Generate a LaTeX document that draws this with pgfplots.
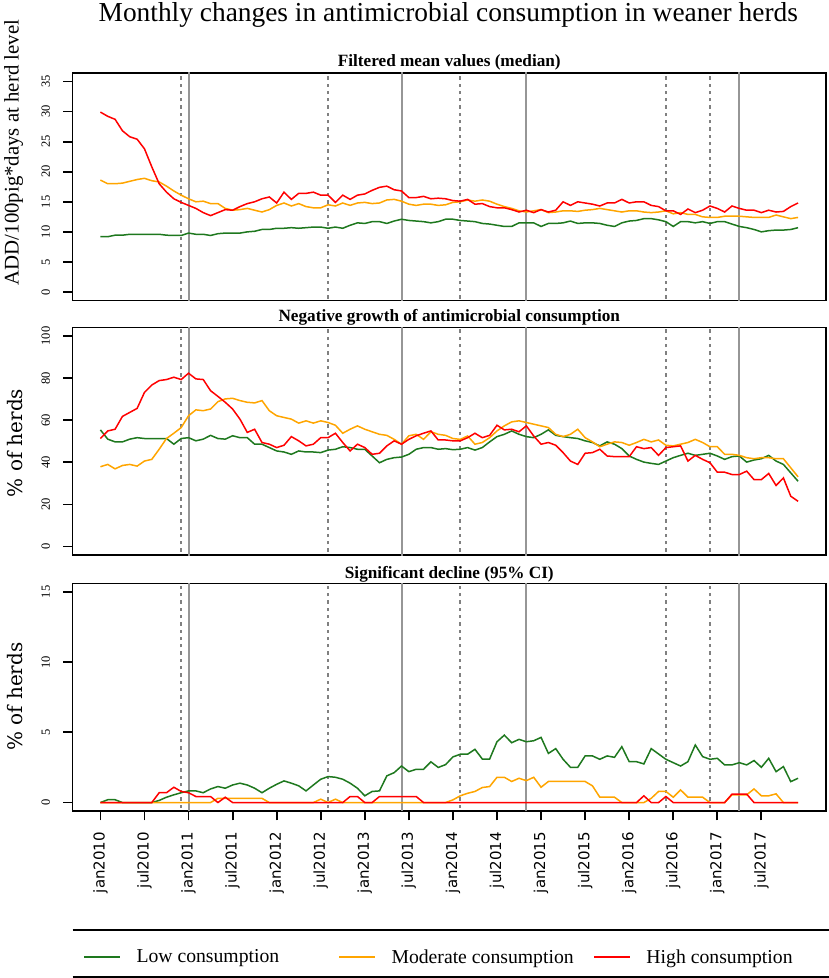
\documentclass[border=0pt]{standalone}
\usepackage{pgfplots}
\usepackage{pgfplotstable}
\pgfplotsset{compat=1.18}
\usepackage{fontspec}
\setmainfont{Liberation Serif}
\newfontfamily\dejasans{DejaVu Sans}
\newfontfamily\dejaserif{DejaVu Serif}
\definecolor{cgreen}{RGB}{30,120,30}
\definecolor{corange}{RGB}{255,165,0}
\definecolor{cred}{RGB}{255,0,0}
\definecolor{cvl}{RGB}{150,150,150}
\newcommand\tfont{\fontsize{27.4pt}{32pt}\selectfont}
\newcommand\pfont{\fontsize{17.2pt}{20pt}\selectfont\bfseries}
\newcommand\ytfont{\fontsize{12.5pt}{14pt}\selectfont}
\newcommand\xtfont{\dejasans\fontsize{15pt}{17pt}\selectfont}
\newcommand\legfont{\fontsize{19.7pt}{22pt}\selectfont}
\newcommand\ylaba{\fontsize{20.8pt}{24pt}\selectfont}
\newcommand\ylabb{\dejaserif\fontsize{20pt}{24pt}\selectfont}

\pgfplotstableread{
m g o r
0 9.2 18.6 29.9
1 9.2 18.0 29.2
2 9.45 18.0 28.7
3 9.45 18.1 26.8
4 9.6 18.4 25.8
5 9.6 18.7 25.4
6 9.6 18.9 23.8
7 9.6 18.5 20.8
8 9.6 18.3 18.0
9 9.45 17.6 16.6
10 9.4 16.8 15.5
11 9.4 16.1 14.9
12 9.8 15.5 14.4
13 9.6 15.0 13.9
14 9.6 15.1 13.2
15 9.4 14.7 12.7
16 9.7 14.7 13.2
17 9.8 13.9 13.7
18 9.8 13.6 13.6
19 9.8 13.7 14.2
20 10.0 13.9 14.7
21 10.1 13.6 15.0
22 10.4 13.3 15.5
23 10.4 13.7 15.8
24 10.6 14.4 14.8
25 10.6 14.8 16.6
26 10.7 14.3 15.4
27 10.6 14.7 16.4
28 10.7 14.2 16.4
29 10.8 14.0 16.6
30 10.8 14.0 16.1
31 10.6 14.5 16.1
32 10.8 14.3 14.9
33 10.6 14.8 16.1
34 11.1 14.4 15.4
35 11.5 14.8 16.1
36 11.4 14.9 16.3
37 11.7 14.7 16.9
38 11.7 14.8 17.4
39 11.4 15.3 17.6
40 11.8 15.4 17.0
41 12.1 15.1 16.8
42 11.9 14.6 15.7
43 11.8 14.4 15.7
44 11.7 14.6 15.9
45 11.5 14.6 15.5
46 11.7 14.4 15.6
47 12.1 14.5 15.5
48 12.1 14.9 15.2
49 11.9 15.0 15.1
50 11.8 15.3 15.4
51 11.7 15.1 14.6
52 11.4 15.3 14.7
53 11.3 15.1 14.2
54 11.1 14.6 14.0
55 10.9 14.2 14.0
56 10.9 13.9 13.7
57 11.5 13.5 13.3
58 11.5 13.3 13.6
59 11.5 13.5 13.2
60 10.9 13.7 13.7
61 11.4 13.2 13.3
62 11.4 13.3 13.6
63 11.5 13.5 15.0
64 11.8 13.5 14.4
65 11.4 13.4 15.0
66 11.5 13.6 14.8
67 11.5 13.7 14.6
68 11.4 13.9 14.3
69 11.1 13.7 14.8
70 10.9 13.5 14.8
71 11.5 13.3 15.4
72 11.8 13.5 14.8
73 11.9 13.5 15.0
74 12.2 13.3 15.0
75 12.2 13.2 14.4
76 12.0 13.3 14.2
77 11.7 13.5 13.5
78 10.9 13.0 13.5
79 11.7 13.2 12.9
80 11.7 12.9 13.8
81 11.5 12.9 13.2
82 11.7 12.5 13.6
83 11.4 12.4 14.3
84 11.7 12.4 13.9
85 11.7 12.6 13.3
86 11.3 12.6 14.3
87 10.9 12.6 13.9
88 10.7 12.5 13.6
89 10.4 12.4 13.6
90 10.0 12.4 13.2
91 10.2 12.4 13.6
92 10.3 12.8 13.3
93 10.3 12.5 13.4
94 10.4 12.2 14.2
95 10.7 12.4 14.8
}\tabA

\pgfplotstableread{
m g o r
0 55.4 37.9 51.3
1 51.0 39.0 54.9
2 49.7 36.9 55.7
3 49.7 38.5 61.8
4 51.0 39.0 63.7
5 51.7 38.2 65.6
6 51.3 40.6 73.2
7 51.3 41.4 76.7
8 51.3 46.2 78.8
9 51.3 51.3 79.3
10 48.6 53.8 80.4
11 51.3 56.5 79.3
12 51.7 62.1 82.3
13 50.2 64.9 79.6
14 51.0 64.5 79.3
15 52.8 65.3 74.0
16 51.3 68.8 71.3
17 51.0 70.1 68.5
18 52.6 70.4 65.3
19 51.7 69.3 60.5
20 51.7 68.5 54.2
21 48.6 68.2 55.7
22 48.6 69.3 49.4
23 47.0 64.5 48.6
24 45.4 62.1 47.0
25 44.9 61.3 48.1
26 43.8 60.5 52.2
27 45.4 58.6 50.2
28 44.9 59.7 47.8
29 44.9 58.6 48.6
30 44.6 59.7 51.7
31 45.8 58.9 51.7
32 46.2 57.6 53.8
33 47.4 53.8 49.4
34 47.0 55.7 45.4
35 46.2 57.3 48.6
36 46.2 55.7 47.0
37 43.0 54.5 43.8
38 39.8 53.3 44.3
39 41.4 52.8 47.8
40 42.2 50.9 50.2
41 42.5 48.6 48.6
42 43.8 52.6 50.9
43 46.2 53.3 52.6
44 47.0 50.9 53.8
45 47.0 54.5 54.9
46 46.2 53.3 50.6
47 46.5 52.8 50.6
48 46.0 51.3 50.2
49 46.2 50.9 50.2
50 47.0 52.5 51.7
51 45.8 48.6 53.8
52 47.0 49.4 51.7
53 49.7 51.7 52.8
54 52.2 54.9 57.6
55 53.3 57.3 55.4
56 54.9 59.2 55.7
57 53.3 59.7 54.5
58 52.2 58.9 57.3
59 51.7 58.1 52.5
60 53.3 57.3 48.6
61 55.4 56.5 49.4
62 52.8 53.3 48.1
63 52.2 52.2 44.6
64 51.7 53.3 40.6
65 51.3 55.7 39.0
66 50.2 51.7 44.3
67 49.4 49.7 44.6
68 47.8 47.4 46.2
69 49.7 48.6 43.0
70 48.6 49.7 42.7
71 46.5 49.4 42.7
72 43.0 48.1 42.7
73 41.4 49.4 47.4
74 40.1 50.9 46.5
75 39.5 49.7 47.0
76 39.0 50.6 43.3
77 40.6 48.1 47.0
78 42.2 47.8 47.4
79 43.3 48.6 47.8
80 44.3 49.4 40.6
81 43.3 50.9 43.3
82 43.8 49.4 41.4
83 44.3 47.4 39.8
84 43.0 47.4 35.3
85 41.4 43.8 35.3
86 42.7 43.8 34.2
87 43.0 43.3 34.2
88 40.1 42.2 35.8
89 41.1 41.7 31.8
90 41.7 42.2 31.8
91 43.3 42.2 34.7
92 40.6 41.7 29.0
93 39.0 41.7 32.6
94 35.0 37.4 23.9
95 31.0 33.1 21.5
}\tabB

\pgfplotstableread{
m g o r
0 0 0 0
1 0.2 0 0
2 0.2 0 0
3 0 0 0
4 0 0 0
5 0 0 0
6 0 0 0
7 0 0 0
8 0.15 0 0.7
9 0.38 0 0.7
10 0.55 0 1.09
11 0.7 0 0.79
12 0.83 0 0.7
13 0.83 0 0.43
14 0.7 0 0.43
15 0.97 0 0.43
16 1.14 0.3 0
17 1.02 0.3 0.38
18 1.25 0.3 0
19 1.38 0.3 0
20 1.25 0.3 0
21 1.02 0.3 0
22 0.7 0.3 0
23 1.02 0 0
24 1.3 0 0
25 1.54 0 0
26 1.38 0 0
27 1.19 0 0
28 0.83 0 0
29 1.25 0 0
30 1.66 0.24 0
31 1.85 0 0
32 1.8 0.24 0
33 1.66 0 0
34 1.38 0 0.43
35 1.02 0 0.43
36 0.48 0 0
37 0.79 0 0
38 0.83 0 0.43
39 1.9 0 0.43
40 2.13 0 0.43
41 2.6 0 0.43
42 2.2 0 0.43
43 2.37 0 0.43
44 2.37 0 0
45 2.9 0 0
46 2.5 0 0
47 2.7 0 0
48 3.25 0.19 0
49 3.44 0.48 0
50 3.44 0.66 0
51 3.79 0.79 0
52 3.1 1.07 0
53 3.1 1.14 0
54 4.33 1.8 0
55 4.8 1.8 0
56 4.26 1.5 0
57 4.5 1.73 0
58 4.33 1.56 0
59 4.4 1.8 0
60 4.64 1.09 0
61 3.5 1.5 0
62 3.84 1.5 0
63 3.08 1.5 0
64 2.51 1.5 0
65 2.51 1.5 0
66 3.32 1.5 0
67 3.32 1.19 0
68 3.08 0.38 0
69 3.32 0.38 0
70 3.22 0.38 0
71 3.98 0 0
72 2.91 0 0
73 2.91 0 0
74 2.75 0 0.48
75 3.84 0.3 0
76 3.46 0.79 0
77 3.08 0.79 0.43
78 2.84 0.38 0
79 2.6 0.9 0
80 2.91 0.38 0
81 4.1 0.38 0
82 3.27 0.38 0
83 3.08 0 0
84 3.15 0 0
85 2.68 0 0
86 2.68 0.55 0.6
87 2.84 0.55 0.6
88 2.68 0.55 0.6
89 2.99 0.97 0
90 2.51 0.48 0
91 3.15 0.48 0
92 2.2 0.62 0
93 2.56 0 0
94 1.49 0 0
95 1.73 0 0
}\tabC

\pgfplotsset{
  panel/.style={
    scale only axis, width=753.5pt, height=227.5pt,
    xmin=-3.8, xmax=98.8,
    axis line style={line width=1.8pt},
    tick align=outside, ytick pos=left, xtick pos=left,
    major tick length=9.5pt,
    major tick style={black, line width=1.8pt},
    yticklabel shift=13pt,
    yticklabel style={rotate=90, anchor=base, font=\ytfont},
    /pgf/number format/assume math mode=true,
  },
  vsolid/.style={cvl, line width=2pt, forget plot},
  vdot/.style={cvl!85!black, line width=2pt, dash pattern=on 3.3pt off 4pt, forget plot},
  sg/.style={cgreen, line width=1.5pt},
  so/.style={corange, line width=1.5pt},
  sr/.style={cred, line width=1.5pt},
}
\newcommand\vlines{%
  \addplot[vdot] coordinates {(11,-200) (11,200)};
  \addplot[vdot] coordinates {(31,-200) (31,200)};
  \addplot[vdot] coordinates {(49,-200) (49,200)};
  \addplot[vdot] coordinates {(77,-200) (77,200)};
  \addplot[vdot] coordinates {(83,-200) (83,200)};
  \addplot[vsolid] coordinates {(12,-200) (12,200)};
  \addplot[vsolid] coordinates {(41,-200) (41,200)};
  \addplot[vsolid] coordinates {(58,-200) (58,200)};
  \addplot[vsolid] coordinates {(87,-200) (87,200)};
}

\begin{document}
\begin{tikzpicture}
\path[use as bounding box] (0pt,0pt) rectangle (829pt,-978pt);

\node[anchor=base, font=\tfont] at (448.3pt,-21pt) {Monthly changes in antimicrobial consumption in weaner herds};

% Panel 1
\begin{axis}[panel, at={(72.5pt,-300.5pt)}, anchor=south west,
  ymin=-1.4, ymax=36.4, ytick={0,5,...,35}, xtick=\empty]
  \vlines
  \addplot[sg] table[x=m,y=g] {\tabA};
  \addplot[so] table[x=m,y=o] {\tabA};
  \addplot[sr] table[x=m,y=r] {\tabA};
\end{axis}
\node[anchor=base, font=\pfont] at (449.3pt,-66.7pt) {Filtered mean values (median)};
\node[anchor=base, rotate=90, font=\ylaba] at (18.5pt,-152.5pt) {ADD/100pig*days at herd level};

% Panel 2
\begin{axis}[panel, at={(72.5pt,-555pt)}, anchor=south west,
  ymin=-4, ymax=104, ytick={0,20,...,100}, xtick=\empty]
  \vlines
  \addplot[sg] table[x=m,y=g] {\tabB};
  \addplot[so] table[x=m,y=o] {\tabB};
  \addplot[sr] table[x=m,y=r] {\tabB};
\end{axis}
\node[anchor=base, font=\pfont] at (449.3pt,-321.7pt) {Negative growth of antimicrobial consumption};
\node[anchor=base, rotate=90, font=\ylabb] at (22pt,-443pt) {\% of herds};

% Panel 3
\begin{axis}[panel, at={(72.5pt,-811pt)}, anchor=south west,
  ymin=-0.6, ymax=15.6, ytick={0,5,10,15},
  xtick={0,6,...,90},
  xticklabels={jan2010,jul2010,jan2011,jul2011,jan2012,jul2012,jan2013,jul2013,jan2014,jul2014,jan2015,jul2015,jan2016,jul2016,jan2017,jul2017},
  xticklabel shift=8pt,
  xticklabel style={rotate=90, anchor=east, font=\xtfont},
  legend columns=3,
  legend style={at={(axis description cs:0.0146,-0.642)}, anchor=west, draw=none, fill=none,
    inner sep=0pt, column sep=0pt, nodes={inner sep=0pt}, font=\legfont},
  legend image code/.code={\draw[#1] (0pt,0pt) -- (36pt,0pt);},
  ]
  \vlines
  \addplot[sg] table[x=m,y=g] {\tabC};
  \addlegendentry{\hspace*{15.3pt}\makebox[202.2pt][l]{Low consumption}}
  \addplot[so] table[x=m,y=o] {\tabC};
  \addlegendentry{\hspace*{15.3pt}\makebox[202.2pt][l]{Moderate consumption}}
  \addplot[sr] table[x=m,y=r] {\tabC};
  \addlegendentry{\hspace*{15.3pt}High consumption}
\end{axis}
\node[anchor=base, font=\pfont] at (449.3pt,-578.3pt) {Significant decline (95\% CI)};
\node[anchor=base, rotate=90, font=\ylabb] at (22pt,-696.7pt) {\% of herds};

\draw[line width=2pt] (72.5pt,-930pt) -- (829pt,-930pt);
\draw[line width=2pt] (72.5pt,-976.5pt) -- (829pt,-976.5pt);
\end{tikzpicture}
\end{document}
